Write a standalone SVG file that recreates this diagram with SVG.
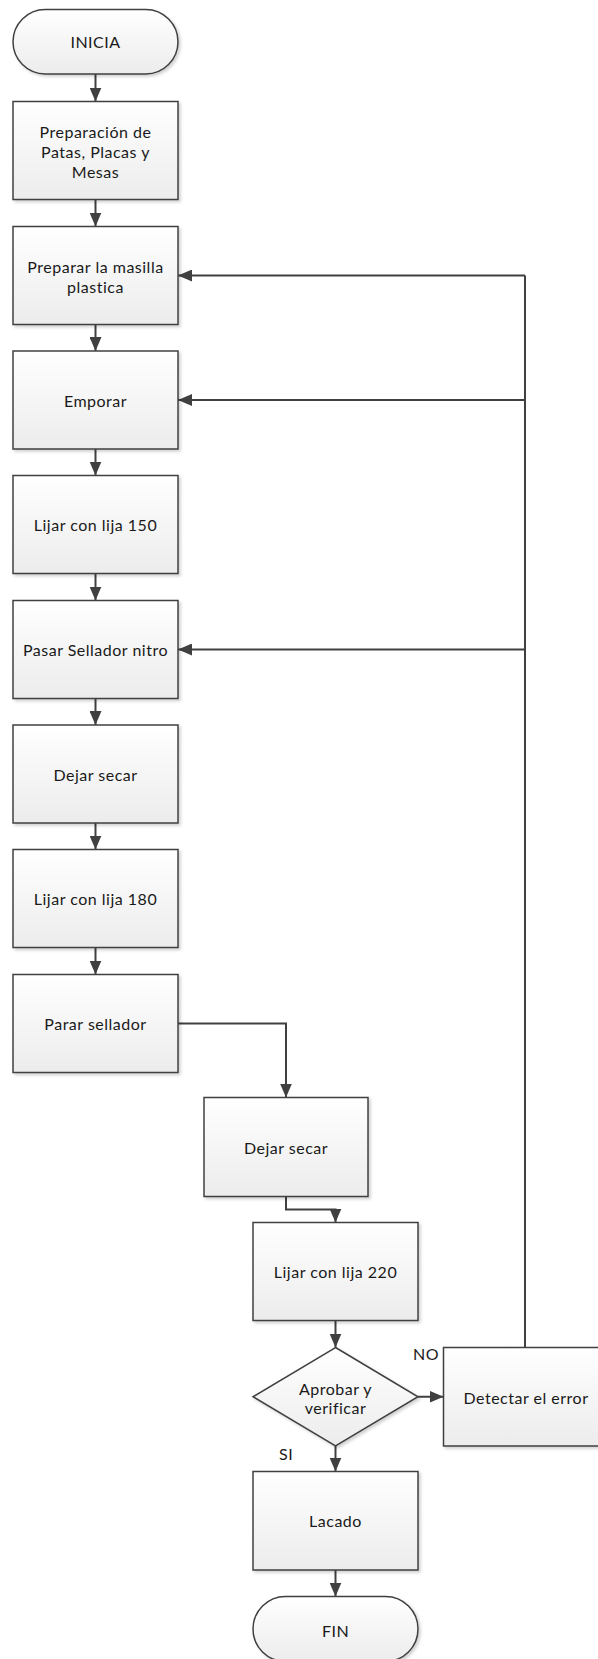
<svg xmlns="http://www.w3.org/2000/svg" width="598" height="1659" viewBox="0 0 598 1659">
  <defs>
    <linearGradient id="boxFill" x1="0" y1="0" x2="0" y2="1">
      <stop offset="0" stop-color="#ffffff"/>
      <stop offset="1" stop-color="#ececec"/>
    </linearGradient>
    <filter id="shadow" x="-10%" y="-10%" width="130%" height="130%">
      <feDropShadow dx="2" dy="2" stdDeviation="1.5" flood-color="#000" flood-opacity="0.18"/>
    </filter>
    <marker id="arrow" viewBox="0 0 14 12" refX="14" refY="6" markerWidth="14" markerHeight="12" markerUnits="userSpaceOnUse" orient="auto">
      <path d="M0,0 L14,6 L0,12 Z" fill="#404040"/>
    </marker>
    <style>
      .shape { fill: url(#boxFill); stroke: #404040; stroke-width: 1.5; filter: url(#shadow); }
      .label { font-family: Lato, "Liberation Sans", sans-serif; font-size: 16px; letter-spacing: 0.5px; fill: #1a1a1a; text-anchor: middle; }
      .tag { font-family: Lato, "Liberation Sans", sans-serif; font-size: 16px; letter-spacing: 0.5px; fill: #1a1a1a; }
      .link { fill: none; stroke: #404040; stroke-width: 2; }
      .arrowed { marker-end: url(#arrow); }
    </style>
  </defs>

  <rect width="598" height="1659" fill="#ffffff"/>

  <!-- connectors -->
  <g id="connectors">
    <path class="link arrowed" d="M95.5,74 V101.5"/>
    <path class="link arrowed" d="M95.5,199.5 V226.5"/>
    <path class="link arrowed" d="M95.5,324.5 V351"/>
    <path class="link arrowed" d="M95.5,449 V475.5"/>
    <path class="link arrowed" d="M95.5,573.5 V600.5"/>
    <path class="link arrowed" d="M95.5,698.5 V725"/>
    <path class="link arrowed" d="M95.5,823 V849.5"/>
    <path class="link arrowed" d="M95.5,947.5 V974.5"/>
    <path class="link arrowed" d="M178,1023.5 H286 V1097.5"/>
    <path class="link arrowed" d="M286,1196.5 V1209.5 H335.5 V1222.5"/>
    <path class="link arrowed" d="M335.5,1320.5 V1347.5"/>
    <path class="link arrowed" d="M418,1396.75 H443.5"/>
    <path class="link arrowed" d="M335.5,1446 V1471.5"/>
    <path class="link arrowed" d="M335.5,1570 V1596.5"/>
    <!-- feedback loop from error detection -->
    <path class="link" d="M525,1347.5 V275.5"/>
    <path class="link arrowed" d="M525,275.5 H178"/>
    <path class="link arrowed" d="M525,400 H178"/>
    <path class="link arrowed" d="M525,649.5 H178"/>
  </g>

  <g id="inicia">
    <rect class="shape" x="13" y="9.5" width="165" height="64.5" rx="32.25" ry="32.25"/>
    <text class="label" x="95.5" y="48">INICIA</text>
  </g>

  <g id="preparacion">
    <rect class="shape" x="13" y="101.5" width="165" height="98"/>
    <text class="label" x="95.5" y="138">Preparación de</text>
    <text class="label" x="95.5" y="158">Patas, Placas y</text>
    <text class="label" x="95.5" y="178">Mesas</text>
  </g>

  <g id="masilla">
    <rect class="shape" x="13" y="226.5" width="165" height="98"/>
    <text class="label" x="95.5" y="272.5">Preparar la masilla</text>
    <text class="label" x="95.5" y="293">plastica</text>
  </g>

  <g id="emporar">
    <rect class="shape" x="13" y="351" width="165" height="98"/>
    <text class="label" x="95.5" y="406.5">Emporar</text>
  </g>

  <g id="lijar150">
    <rect class="shape" x="13" y="475.5" width="165" height="98"/>
    <text class="label" x="95.5" y="531">Lijar con lija 150</text>
  </g>

  <g id="sellador-nitro">
    <rect class="shape" x="13" y="600.5" width="165" height="98"/>
    <text class="label" x="95.5" y="656">Pasar Sellador nitro</text>
  </g>

  <g id="secar1">
    <rect class="shape" x="13" y="725" width="165" height="98"/>
    <text class="label" x="95.5" y="780.5">Dejar secar</text>
  </g>

  <g id="lijar180">
    <rect class="shape" x="13" y="849.5" width="165" height="98"/>
    <text class="label" x="95.5" y="905">Lijar con lija 180</text>
  </g>

  <g id="parar-sellador">
    <rect class="shape" x="13" y="974.5" width="165" height="98"/>
    <text class="label" x="95.5" y="1030">Parar sellador</text>
  </g>

  <g id="secar2">
    <rect class="shape" x="204" y="1097.5" width="164" height="99"/>
    <text class="label" x="286" y="1153.5">Dejar secar</text>
  </g>

  <g id="lijar220">
    <rect class="shape" x="253" y="1222.5" width="165" height="98"/>
    <text class="label" x="335.5" y="1278">Lijar con lija 220</text>
  </g>

  <g id="aprobar">
    <polygon class="shape" points="335.5,1347.5 418,1396.75 335.5,1446 253,1396.75"/>
    <text class="label" x="335.5" y="1395">Aprobar y</text>
    <text class="label" x="335.5" y="1414">verificar</text>
  </g>

  <g id="detectar">
    <rect class="shape" x="443.5" y="1347.5" width="165" height="98.5"/>
    <text class="label" x="526" y="1403.5">Detectar el error</text>
  </g>

  <g id="lacado">
    <rect class="shape" x="253" y="1471.5" width="165" height="98.5"/>
    <text class="label" x="335.5" y="1527">Lacado</text>
  </g>

  <g id="fin">
    <rect class="shape" x="253" y="1596.5" width="165" height="65" rx="32.5" ry="32.5"/>
    <text class="label" x="335.5" y="1637">FIN</text>
  </g>

  <g id="branch-labels">
    <text class="tag" x="413" y="1360">NO</text>
    <text class="tag" x="279" y="1460">SI</text>
  </g>
</svg>
